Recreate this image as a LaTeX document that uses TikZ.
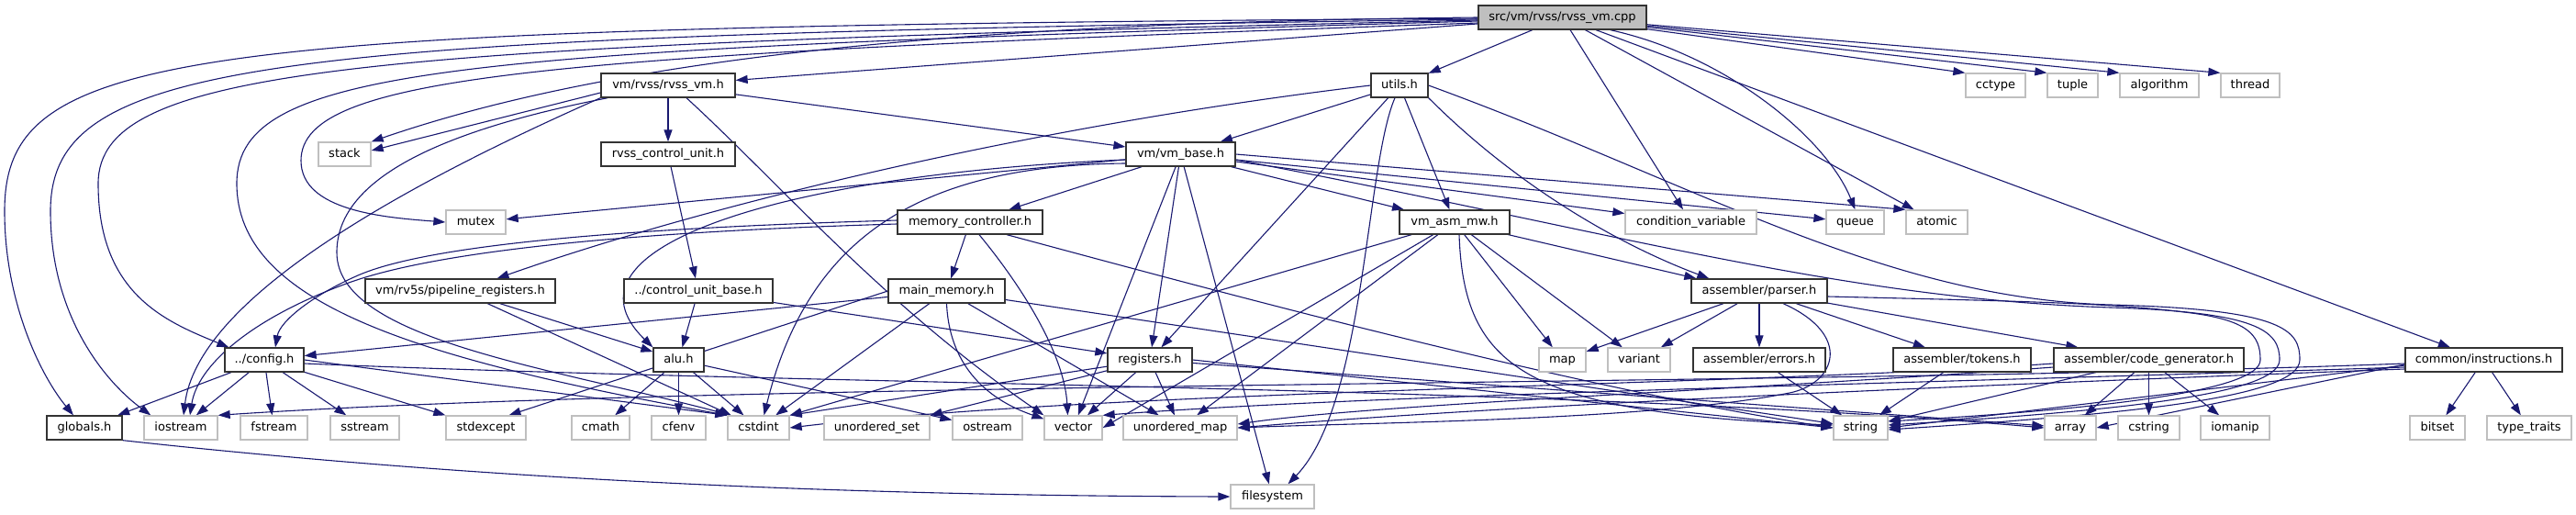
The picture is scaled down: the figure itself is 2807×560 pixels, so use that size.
\documentclass[tikz,border=0pt]{standalone}
\usepackage{fontspec}
\setmainfont{DejaVu Sans}
\usetikzlibrary{arrows.meta}
\definecolor{edgec}{HTML}{191970}
\definecolor{lgray}{HTML}{BFBFBF}
\definecolor{dgray}{HTML}{333333}
\pgfdeclarelayer{bg}
\pgfsetlayers{bg,main}
\tikzset{
  nbox/.style={rectangle, minimum height=26pt, inner sep=0pt, fill=white,
    font=\fontsize{13pt}{15pt}\selectfont, text height=9.6pt, text depth=2.9pt},
  hdr/.style={nbox, draw=dgray, line width=1.3pt},
  sys/.style={nbox, draw=lgray, line width=1.3pt},
  srcbox/.style={nbox, draw=dgray, fill=lgray, line width=1.3pt},
  dep/.style={draw=edgec, line width=1.1pt, -{Triangle[length=13pt,width=9pt]}},
}
\begin{document}
\begin{tikzpicture}[x=1pt,y=-1pt]
\useasboundingbox (0,0) rectangle (2807,560);
% row 0
\node[srcbox, minimum width=183pt] (src) at (1702.5,19) {src/vm/rvss/rvss\_vm.cpp};
% row 1
\node[hdr, minimum width=146pt] (rvssvmh) at (728,93) {vm/rvss/rvss\_vm.h};
\node[hdr, minimum width=62pt] (utils) at (1525,93) {utils.h};
\node[sys, minimum width=65pt] (cctype) at (2174.5,93) {cctype};
\node[sys, minimum width=55pt] (tuple) at (2258.5,93) {tuple};
\node[sys, minimum width=86pt] (algorithm) at (2353,93) {algorithm};
\node[sys, minimum width=64pt] (thread) at (2452,93) {thread};
% row 2
\node[sys, minimum width=57pt] (stack) at (375.5,168) {stack};
\node[hdr, minimum width=146pt] (rvsscu) at (728,168) {rvss\_control\_unit.h};
\node[hdr, minimum width=119pt] (vmbase) at (1286.5,168) {vm/vm\_base.h};
% row 3
\node[sys, minimum width=65pt] (mutex) at (518.5,242) {mutex};
\node[hdr, minimum width=158pt] (memctl) at (1057,242) {memory\_controller.h};
\node[hdr, minimum width=120pt] (vmasm) at (1585,242) {vm\_asm\_mw.h};
\node[sys, minimum width=143pt] (condvar) at (1842.5,242) {condition\_variable};
\node[sys, minimum width=63pt] (queue) at (2021.5,242) {queue};
\node[sys, minimum width=67pt] (atomic) at (2110.5,242) {atomic};
% row 4
\node[hdr, minimum width=207pt] (pipe) at (501.5,317) {vm/rv5s/pipeline\_registers.h};
\node[hdr, minimum width=162pt] (cub) at (761,317) {../control\_unit\_base.h};
\node[hdr, minimum width=127pt] (mainmem) at (1031.5,317) {main\_memory.h};
\node[hdr, minimum width=148pt] (parser) at (1917,317) {assembler/parser.h};
% row 5
\node[hdr, minimum width=86pt] (config) at (288,392) {../config.h};
\node[hdr, minimum width=55pt] (alu) at (739.5,392) {alu.h};
\node[hdr, minimum width=92pt] (registers) at (1253,392) {registers.h};
\node[sys, minimum width=51pt] (map) at (1702.5,392) {map};
\node[sys, minimum width=68pt] (variant) at (1786,392) {variant};
\node[hdr, minimum width=144pt] (errors) at (1917,392) {assembler/errors.h};
\node[hdr, minimum width=150pt] (tokens) at (2138,392) {assembler/tokens.h};
\node[hdr, minimum width=207pt] (codegen) at (2341.5,392) {assembler/code\_generator.h};
\node[hdr, minimum width=171pt] (instr) at (2706.5,392) {common/instructions.h};
% row 6
\node[hdr, minimum width=82pt] (globals) at (92,466) {globals.h};
\node[sys, minimum width=80pt] (iostream) at (197,466) {iostream};
\node[sys, minimum width=73pt] (fstream) at (298.5,466) {fstream};
\node[sys, minimum width=75pt] (sstream) at (397.5,466) {sstream};
\node[sys, minimum width=87pt] (stdexcept) at (529.5,466) {stdexcept};
\node[sys, minimum width=63pt] (cmath) at (654.5,466) {cmath};
\node[sys, minimum width=59pt] (cfenv) at (739.5,466) {cfenv};
\node[sys, minimum width=67pt] (cstdint) at (826.5,466) {cstdint};
\node[sys, minimum width=115pt] (uset) at (955.5,466) {unordered\_set};
\node[sys, minimum width=76pt] (ostream) at (1076,466) {ostream};
\node[sys, minimum width=63pt] (vector) at (1169.5,466) {vector};
\node[sys, minimum width=124pt] (umap) at (1286,466) {unordered\_map};
\node[sys, minimum width=59pt] (string) at (2027.5,466) {string};
\node[sys, minimum width=56pt] (array) at (2256,466) {array};
\node[sys, minimum width=67pt] (cstring) at (2341.5,466) {cstring};
\node[sys, minimum width=75pt] (iomanip) at (2435.5,466) {iomanip};
\node[sys, minimum width=60pt] (bitset) at (2656,466) {bitset};
\node[sys, minimum width=92pt] (typetraits) at (2756,466) {type\_traits};
% row 7
\node[sys, minimum width=91pt] (filesystem) at (1386.5,541) {filesystem};

\begin{pgfonlayer}{bg}
% from src
\draw[dep] (src) -- (rvssvmh);
\draw[dep] (src) -- (utils);
\draw[dep] (src) -- (condvar);
\draw[dep] ([xshift=-40pt]src.south east) .. controls (1880,60) and (1990,150) .. (queue.north);
\draw[dep] (src) -- (atomic);
\draw[dep] (src) -- (cctype.north west);
\draw[dep] (src) -- (tuple.north west);
\draw[dep] (src) -- (algorithm.north west);
\draw[dep] (src) -- (thread.north west);
\draw[dep] (src) -- (instr);
\draw[dep] (src.west) .. controls (1000,25) and (650,70) .. (stack.north east);
\draw[dep] ([yshift=-6pt]src.west) .. controls (600,60) and (328,80) .. (328,175) .. controls (328,230) and (420,237) .. (mutex.west);
\draw[dep] ([yshift=-1pt]src.west) .. controls (200,30) and (5,50) .. (5,230) .. controls (5,330) and (45,410) .. ([xshift=-12pt]globals.north);
\draw[dep] ([yshift=-2pt]src.west) .. controls (300,40) and (55,60) .. (55,230) .. controls (55,350) and (120,420) .. ([xshift=8pt]iostream.north west);
\draw[dep] ([yshift=-3pt]src.west) .. controls (400,50) and (107,70) .. (107,200) .. controls (107,320) and (180,350) .. ([xshift=5pt]config.north west);
\draw[dep] ([yshift=-4pt]src.west) .. controls (500,55) and (258,70) .. (258,200) .. controls (258,330) and (450,390) .. (cstdint.north west);
% from rvss_vm.h
\draw[dep] ([yshift=-8pt]rvssvmh.west) -- ([yshift=4pt]stack.east);
\draw[dep] (rvssvmh.south west) .. controls (420,210) and (215,330) .. ([xshift=3pt]iostream.north);
\draw[dep] ([xshift=8pt]rvssvmh.south west) .. controls (440,150) and (367,210) .. (367,275) .. controls (367,370) and (600,400) .. ([xshift=4pt]cstdint.north west);
\draw[dep] (rvssvmh) -- (rvsscu);
\draw[dep] (rvssvmh) -- (vmbase);
\draw[dep] ([xshift=20pt]rvssvmh.south) .. controls (850,200) and (960,330) .. (vector.north west);
% rvss_control_unit.h
\draw[dep] (rvsscu) -- (cub);
% control_unit_base.h
\draw[dep] (cub) -- (alu);
\draw[dep] (cub) -- (registers);
% utils.h
\draw[dep] (utils) -- (vmbase);
\draw[dep] (utils.west) .. controls (1100,140) and (750,230) .. ([xshift=40pt]pipe.north);
\draw[dep] (utils) -- (registers);
\draw[dep] (utils) -- (vmasm);
\draw[dep] ([xshift=-5pt]utils.south) .. controls (1488,180) and (1488,440) .. ([xshift=17pt]filesystem.north);
\draw[dep] (utils.south east) .. controls (1650,200) and (1760,265) .. ([xshift=20pt]parser.north west);
\draw[dep] (utils.east) .. controls (1850,200) and (2050,325) .. (2300,332) .. controls (2490,337) and (2506,360) .. (2506,392) .. controls (2506,435) and (2300,452) .. ([yshift=-2pt]string.east);
% vm_base.h
\draw[dep] (vmbase) -- (mutex);
\draw[dep] (vmbase) -- (memctl);
\draw[dep] ([yshift=-6pt]vmbase.west) .. controls (850,190) and (600,270) .. (alu.north west);
\draw[dep] ([yshift=-10pt]vmbase.west) .. controls (1000,180) and (880,260) .. ([xshift=6pt]cstdint.north);
\draw[dep] (vmbase) -- (registers);
\draw[dep] (vmbase) -- (vector);
\draw[dep] (vmbase) -- (filesystem);
\draw[dep] (vmbase) -- (condvar);
\draw[dep] (vmbase) -- (queue);
\draw[dep] (vmbase.east) -- (atomic.north west);
\draw[dep] (vmbase) -- (vmasm);
\draw[dep] ([yshift=-6pt]vmbase.east) .. controls (1750,250) and (2000,325) .. (2300,335) .. controls (2460,340) and (2484,360) .. (2484,392) .. controls (2484,430) and (2300,448) .. ([yshift=3pt]string.east);
% memory_controller.h
\draw[dep] (memctl) -- (mainmem);
\draw[dep] ([yshift=2pt]memctl.west) .. controls (700,248) and (470,265) .. (390,300) .. controls (340,322) and (305,350) .. ([xshift=12pt]config.north);
\draw[dep] ([yshift=-2pt]memctl.west) .. controls (700,252) and (480,272) .. (380,308) .. controls (270,348) and (215,400) .. ([xshift=10pt]iostream.north);
\draw[dep] ([xshift=10pt]memctl.south) .. controls (1120,320) and (1160,390) .. ([xshift=-6pt]vector.north);
\draw[dep] ([xshift=40pt]memctl.south) .. controls (1300,310) and (1700,420) .. (string.west);
% main_memory.h
\draw[dep] (mainmem) -- (config);
\draw[dep] (mainmem.west) -- ([xshift=25pt]stdexcept.north);
\draw[dep] (mainmem) -- (cstdint);
\draw[dep] (mainmem.south) .. controls (1035,410) and (1090,440) .. ([yshift=-4pt]vector.north west);
\draw[dep] (mainmem) -- (umap);
\draw[dep] (mainmem) -- (string);
% pipeline_registers.h
\draw[dep] (pipe) -- (alu);
\draw[dep] (pipe) -- (cstdint);
% alu.h
\draw[dep] (alu) -- (cmath);
\draw[dep] (alu) -- (cfenv);
\draw[dep] (alu) -- (cstdint);
\draw[dep] (alu) -- (ostream);
% config.h
\draw[dep] (config) -- (globals);
\draw[dep] (config) -- (iostream);
\draw[dep] (config) -- (fstream);
\draw[dep] (config) -- (sstream);
\draw[dep] (config) -- (stdexcept.north west);
\draw[dep] (config.east) -- (cstdint.north west);
\draw[dep] ([yshift=-4pt]config.east) .. controls (900,420) and (1700,420) .. (array.west);
% globals.h
\draw[dep] (globals.south east) .. controls (500,520) and (900,540) .. (filesystem.west);
% registers.h
\draw[dep] (registers) -- (uset.north east);
\draw[dep] (registers) -- (cstdint.north east);
\draw[dep] (registers) -- (vector);
\draw[dep] (registers) -- (umap);
\draw[dep] (registers.east) -- (string.west);
\draw[dep] (registers) -- (array);
% vm_asm_mw.h
\draw[dep] (vmasm) -- ([xshift=6pt]parser.north west);
\draw[dep] (vmasm) -- (map);
\draw[dep] (vmasm) -- (variant);
\draw[dep] ([xshift=5pt]vmasm.south) .. controls (1595,400) and (1660,450) .. ([yshift=3pt]string.west);
\draw[dep] (vmasm) -- (vector.east);
\draw[dep] (vmasm) -- (umap);
\draw[dep] (vmasm) -- (cstdint.north east);
% parser.h
\draw[dep] (parser) -- (map);
\draw[dep] (parser) -- (variant);
\draw[dep] (parser) -- (errors);
\draw[dep] (parser) -- (tokens);
\draw[dep] (parser) -- (codegen);
\draw[dep] ([xshift=26pt]parser.south) .. controls (2020,365) and (2000,418) .. (1950,428) .. controls (1800,458) and (1500,460) .. (umap.east);
\draw[dep] ([yshift=-6pt]parser.east) .. controls (2200,328) and (2300,330) .. (2380,340) .. controls (2450,348) and (2463,365) .. (2463,392) .. controls (2463,425) and (2300,445) .. ([yshift=7pt]string.east);
% errors / tokens
\draw[dep] (errors) -- (string);
\draw[dep] (tokens) -- (string);
% code_generator.h
\draw[dep] (codegen) -- (string);
\draw[dep] (codegen) -- (array);
\draw[dep] (codegen) -- (cstring);
\draw[dep] (codegen) -- (iomanip);
\draw[dep] ([yshift=-4pt]codegen.west) .. controls (1900,420) and (1200,425) .. (cstdint.east);
\draw[dep] ([yshift=-8pt]codegen.west) .. controls (1900,425) and (1500,440) .. ([yshift=4pt]umap.east);
% instructions.h
\draw[dep] (instr) -- (bitset);
\draw[dep] (instr) -- (typetraits);
\draw[dep] ([yshift=-4pt]instr.west) .. controls (2000,420) and (800,415) .. (iostream.north east);
\draw[dep] ([yshift=-6pt]instr.west) -- (string.east);
\draw[dep] ([yshift=-5pt]instr.west) -- (array.east);
\draw[dep] ([yshift=-8pt]instr.west) .. controls (2000,420) and (1500,430) .. (vector.north east);
\draw[dep] ([yshift=-10pt]instr.west) .. controls (2000,425) and (1600,445) .. (umap.east);
\end{pgfonlayer}
\end{tikzpicture}
\end{document}
